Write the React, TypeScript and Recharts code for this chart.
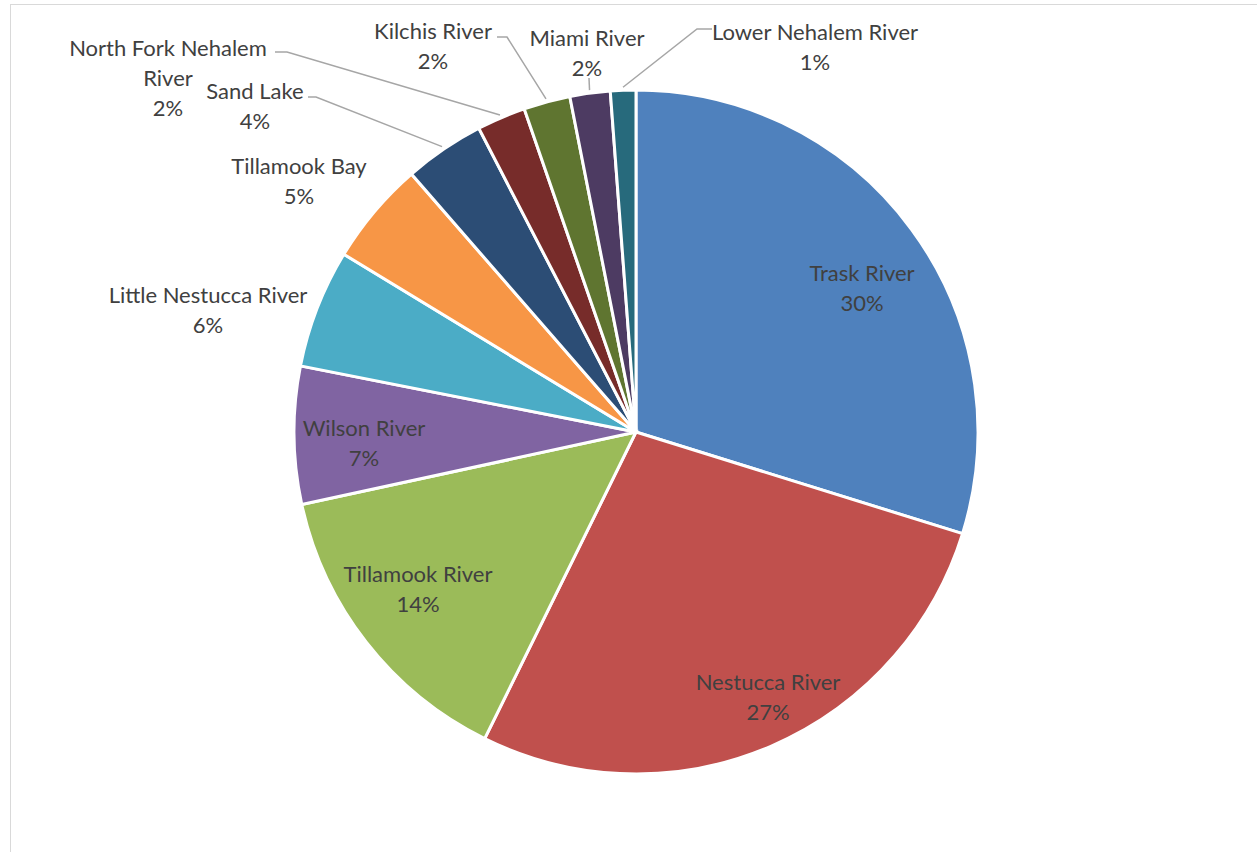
import React from "react";
import { PieChart, Pie, Cell } from "recharts";

const names = [
  "Trask River",
  "Nestucca River",
  "Tillamook River",
  "Wilson River",
  "Little Nestucca River",
  "Tillamook Bay",
  "Sand Lake",
  "North Fork Nehalem River",
  "Kilchis River",
  "Miami River",
  "Lower Nehalem River",
];
const values = [29.8, 27.49, 14.3, 6.5, 5.6, 4.9, 3.8, 2.3, 2.2, 1.9, 1.2];
const colors = [
  "#4F81BD",
  "#C0504D",
  "#9BBB59",
  "#8064A2",
  "#4BACC6",
  "#F79646",
  "#2C4D75",
  "#772C2A",
  "#5F7530",
  "#4D3B62",
  "#276A7C",
];

const data = names.map((name, i) => ({ name, value: values[i] }));

// Label layout, in units of the outer radius, relative to the pie centre.
type Layout = {
  pos: [number, number];
  lines?: string[];
  lineFrom?: [number, number];
  elbow?: [number, number];
};
const R0 = 342;
const px = (dx: number, dy: number): [number, number] => [dx / R0, dy / R0];
const layout: Record<string, Layout> = {
  "Trask River": { pos: px(226, -145) },
  "Nestucca River": { pos: px(132, 264) },
  "Tillamook River": { pos: px(-218, 156) },
  "Wilson River": { pos: px(-272, 10) },
  "Little Nestucca River": { pos: px(-428, -122.5) },
  "Tillamook Bay": { pos: px(-337, -252) },
  "Sand Lake": { pos: px(-381, -326.5), lineFrom: px(-328, -335), elbow: px(-320, -335) },
  "North Fork Nehalem River": {
    pos: px(-468, -355),
    lines: ["North Fork Nehalem", "River"],
    lineFrom: px(-361, -380),
    elbow: px(-349, -380),
  },
  "Kilchis River": { pos: px(-203, -386.5), lineFrom: px(-139, -395), elbow: px(-129, -395) },
  "Miami River": { pos: px(-49, -380), lineFrom: px(-47, -354), elbow: px(-47, -354) },
  "Lower Nehalem River": { pos: px(179, -386), lineFrom: px(76, -403), elbow: px(61, -403) },
};

const FONT = "Lato, 'Open Sans', sans-serif";
const LINE_H = 30;
const RAD = Math.PI / 180;

const renderLabel = (props: any) => {
  const { cx, cy, outerRadius, midAngle, percent, name, index } = props;
  const lay = layout[name];
  if (!lay) return null;
  const lx = cx + lay.pos[0] * outerRadius;
  const ly = cy + lay.pos[1] * outerRadius;
  const lines = [...(lay.lines ?? [name]), `${Math.round(percent * 100)}%`];
  const n = lines.length;
  let leader = null;
  if (lay.lineFrom && lay.elbow) {
    const sx = cx + Math.cos(-midAngle * RAD) * (outerRadius + 3);
    const sy = cy + Math.sin(-midAngle * RAD) * (outerRadius + 3);
    const ax = cx + lay.lineFrom[0] * outerRadius;
    const ay = cy + lay.lineFrom[1] * outerRadius;
    const ex = cx + lay.elbow[0] * outerRadius;
    const ey = cy + lay.elbow[1] * outerRadius;
    leader = (
      <polyline
        points={`${ax},${ay} ${ex},${ey} ${sx},${sy}`}
        fill="none"
        stroke="#A6A6A6"
        strokeWidth={1.5}
      />
    );
  }
  return (
    <g key={`lbl-${index}`}>
      {leader}
      {lines.map((t, i) => (
        <text
          key={i}
          x={lx}
          y={ly + (i - (n - 1) / 2) * LINE_H}
          textAnchor="middle"
          dominantBaseline="central"
          fill="#404040"
          fontSize={22}
          fontFamily={FONT}
        >
          {t}
        </text>
      ))}
    </g>
  );
};

export default function App() {
  return (
    <div
      style={{
        position: "absolute",
        left: 0,
        top: 0,
        width: 1257,
        height: 852,
        overflow: "hidden",
        background: "#fff",
      }}
    >
      <div
        style={{
          position: "absolute",
          left: 10,
          top: 4,
          width: 1300,
          height: 900,
          border: "1.5px solid #D9D9D9",
        }}
      />
      <div style={{ position: "absolute", left: 0, top: 0 }}>
        <PieChart
          width={1257}
          height={852}
          margin={{ top: 0, right: 0, bottom: 0, left: 0 }}
        >
          <Pie
            data={data}
            dataKey="value"
            nameKey="name"
            cx={636}
            cy={432}
            outerRadius={342}
            startAngle={90}
            endAngle={-270}
            stroke="#FFFFFF"
            strokeWidth={3}
            label={renderLabel}
            labelLine={false}
            isAnimationActive={false}
          >
            {data.map((d, i) => (
              <Cell key={d.name} fill={colors[i]} />
            ))}
          </Pie>
        </PieChart>
      </div>
    </div>
  );
}
